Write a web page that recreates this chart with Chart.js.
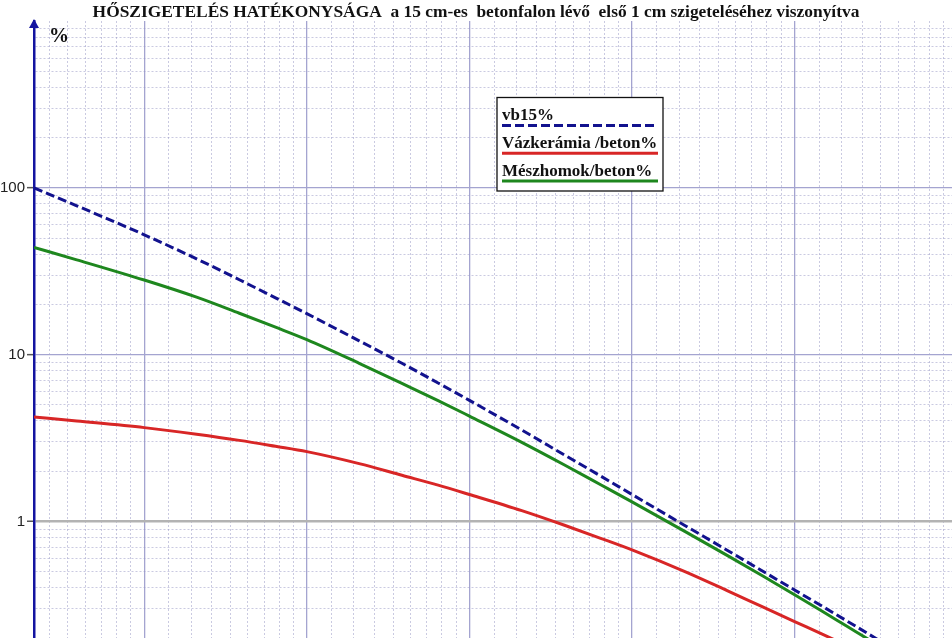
<!DOCTYPE html>
<html><head><meta charset="utf-8">
<script src="https://cdn.jsdelivr.net/npm/chart.js@4.4.1/dist/chart.umd.min.js"></script>
<style>html,body{margin:0;padding:0;background:#fff;overflow:hidden}#wrap{width:952px;height:638px;position:relative}</style>
</head><body><div id="wrap"><canvas id="c" width="952" height="638"></canvas></div>
<script>
// ---- text ----
const titleText = 'HŐSZIGETELÉS HATÉKONYSÁGA  a 15 cm-es  betonfalon lévő  első 1 cm szigeteléséhez viszonyítva';
const yAxisTitle = '%';
const seriesNames = ['vb15%', 'Vázkerámia /beton%', 'Mészhomok/beton%'];
const yTickLabels = [1, 10, 100];

// ---- data (insulation thickness, log axis) ----
const thickness  = [1.25, 1.5, 2, 2.5, 3, 3.5, 4, 5, 6, 7, 8, 10, 12, 14, 16, 20, 24, 28, 32, 36, 40, 44, 48];
const vb15       = [100, 78.0, 52.3, 37.5, 28.1, 21.9, 17.6, 12.1, 8.87, 6.76, 5.32, 3.53, 2.50, 1.87, 1.45, 0.949, 0.672, 0.501, 0.388, 0.310, 0.253, 0.210, 0.177];
const vazkeramia = [4.23, 4.00, 3.65, 3.33, 3.06, 2.82, 2.62, 2.22, 1.89, 1.65, 1.45, 1.16, 0.948, 0.792, 0.675, 0.502, 0.385, 0.306, 0.251, 0.211, 0.180, null, null];
const meszhomok  = [43.9, 37.0, 28.0, 22.1, 17.7, 14.6, 12.3, 8.87, 6.72, 5.30, 4.28, 2.98, 2.18, 1.66, 1.31, 0.875, 0.626, 0.469, 0.363, 0.289, 0.235, 0.195, 0.164];

// ---- axis ranges ----
const xMin = 1.25, xMax = 62.6;
const yMin = 0.2, yMax = 1000;

const near = (a, b) => Math.abs(a - b) < 1e-9 * Math.max(1, Math.abs(b));
const isDecade = v => { const l = Math.log10(v); return Math.abs(l - Math.round(l)) < 1e-9; };

// grid positions
function yGridValues() {
  const out = [];
  for (let e = -1; e <= 2; e++) for (let k = 1; k <= 9; k++) {
    const v = parseFloat((k * Math.pow(10, e)).toPrecision(6));
    if (v >= yMin - 1e-9 && v <= yMax + 1e-9) out.push(v);
  }
  out.push(1000);
  return out;
}
function xMajor(v) { const l = Math.log2(v); return Math.abs(l - Math.round(l)) < 1e-9; }
function xGridValues() {
  const out = [];
  for (let n = 0; n <= 6; n++) {
    const M = Math.pow(2, n);
    for (let k = 0; k <= 8; k++) {
      const v = M * (9 + k) / 9;
      if (v >= xMin && v <= xMax) out.push(v);
    }
  }
  return out;
}

const toPts = arr => thickness.map((x, i) => ({x, y: arr[i]})).filter(p => p.y !== null);

const decorPlugin = {
  id: 'decor',
  afterDraw(chart) {
    const ctx = chart.ctx;
    const area = chart.chartArea;
    ctx.save();
    // title
    ctx.fillStyle = '#111';
    ctx.font = 'bold 17.4px "Liberation Serif"';
    ctx.textAlign = 'center';
    ctx.textBaseline = 'alphabetic';
    ctx.fillText(titleText, 476, 17);
    // axis arrow
    ctx.fillStyle = '#1414a0';
    ctx.beginPath();
    ctx.moveTo(area.left, area.top - 2);
    ctx.lineTo(area.left - 5, area.top + 7);
    ctx.lineTo(area.left + 5, area.top + 7);
    ctx.closePath();
    ctx.fill();
    // % label
    ctx.fillStyle = '#111';
    ctx.font = 'bold 20px "Liberation Serif"';
    ctx.textAlign = 'left';
    ctx.fillText(yAxisTitle, 49, 42);
    // legend
    const bx = 497, by = 97.5, bw = 166, bh = 93.5;
    ctx.fillStyle = '#fff';
    ctx.fillRect(bx, by, bw, bh);
    ctx.strokeStyle = '#111';
    ctx.lineWidth = 1.3;
    ctx.strokeRect(bx, by, bw, bh);
    ctx.font = 'bold 17px "Liberation Serif"';
    const rows = [[120, 125.5], [148, 153.3], [176, 181]];
    chart.data.datasets.forEach((ds, i) => {
      const [ty, ly] = rows[i];
      ctx.fillStyle = '#111';
      ctx.fillText(ds.label, 502, ty);
      ctx.strokeStyle = ds.borderColor;
      ctx.lineWidth = 3;
      ctx.setLineDash(ds.borderDash || []);
      ctx.beginPath();
      ctx.moveTo(502, ly);
      ctx.lineTo(658, ly);
      ctx.stroke();
      ctx.setLineDash([]);
    });
    ctx.restore();
  }
};

new Chart(document.getElementById('c'), {
  type: 'line',
  data: {
    datasets: [
      {label: seriesNames[0], data: toPts(vb15), borderColor: '#12128e', borderWidth: 3, borderDash: [9, 4], pointRadius: 0, cubicInterpolationMode: 'monotone', fill: false},
      {label: seriesNames[1], data: toPts(vazkeramia), borderColor: '#d82626', borderWidth: 3, pointRadius: 0, cubicInterpolationMode: 'monotone', fill: false},
      {label: seriesNames[2], data: toPts(meszhomok), borderColor: '#1e871e', borderWidth: 3, pointRadius: 0, cubicInterpolationMode: 'monotone', fill: false}
    ]
  },
  options: {
    responsive: false,
    animation: false,
    devicePixelRatio: 1,
    layout: {padding: {top: 21, left: 0, right: 0, bottom: 0}},
    plugins: {legend: {display: false}, title: {display: false}, tooltip: {enabled: false}},
    scales: {
      x: {
        type: 'logarithmic', min: xMin, max: xMax, bounds: 'data',
        afterBuildTicks: s => { s.ticks = xGridValues().map(v => ({value: v})); },
        afterFit: s => { s.height = 0; s.paddingLeft = 0; s.paddingRight = 0; },
        ticks: {display: false, autoSkip: false},
        grid: {
          drawTicks: false,
          color: c => (c.tick && xMajor(c.tick.value)) ? '#a4a4d0' : 'rgba(150,150,195,0.5)',
          lineWidth: c => (c.tick && xMajor(c.tick.value)) ? 1.3 : 1
        },
        border: {display: false, dash: c => (c.tick && !xMajor(c.tick.value)) ? [2, 2] : []}
      },
      y: {
        type: 'logarithmic', min: yMin, max: yMax, bounds: 'data',
        afterBuildTicks: s => { s.ticks = yGridValues().map(v => ({value: v})); },
        afterFit: s => { s.width = 34; s.paddingTop = 0; s.paddingBottom = 0; },
        ticks: {
          autoSkip: false, padding: 2, color: '#222',
          font: {family: 'Liberation Sans', size: 15},
          callback: v => yTickLabels.some(t => near(v, t)) ? String(yTickLabels.find(t => near(v, t))) : ''
        },
        grid: {
          tickLength: 7,
          tickWidth: 1.5,
          tickColor: c => (c.tick && yTickLabels.some(t => near(c.tick.value, t))) ? '#555' : 'rgba(0,0,0,0)',
          color: c => {
            if (!c.tick) return 'rgba(0,0,0,0)';
            const v = c.tick.value;
            if (near(v, 1000)) return 'rgba(0,0,0,0)';
            if (near(v, 1)) return '#b3b3b3';
            if (isDecade(v)) return '#a4a4d0';
            return 'rgba(150,150,195,0.5)';
          },
          lineWidth: c => (c.tick && near(c.tick.value, 1)) ? 2.5 : (c.tick && isDecade(c.tick.value) ? 1.3 : 1)
        },
        border: {display: true, color: '#1414a0', width: 2.5, dash: c => (c.tick && !isDecade(c.tick.value)) ? [2, 2] : []}
      }
    }
  },
  plugins: [decorPlugin]
});
</script>
</body></html>
